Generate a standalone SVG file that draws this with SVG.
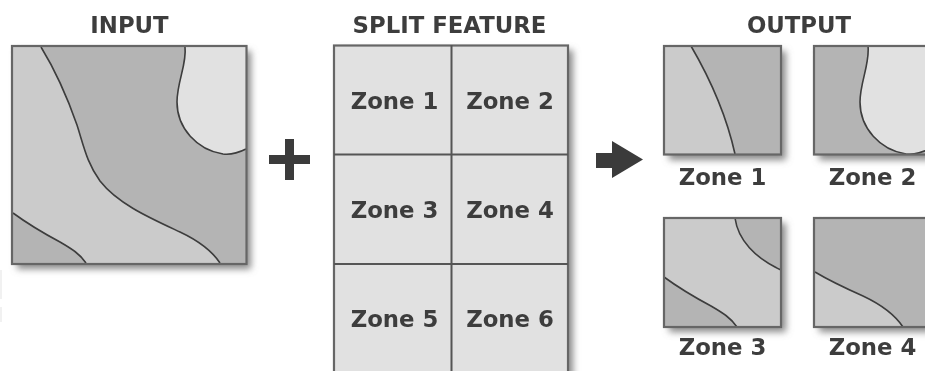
<svg xmlns="http://www.w3.org/2000/svg" width="925" height="371" viewBox="0 0 925 371">
<style>
text{font-family:"DejaVu Sans","Open Sans",sans-serif;font-weight:700;fill:#3e3e3e;text-anchor:middle;font-size:22.800px}
.box{fill:#b4b4b4}
.mid{fill:#cbcbcb}
.lite{fill:#e1e1e1}
.ln{fill:none;stroke:#3c3c3c;stroke-width:1.6}
.edge{fill:none;stroke:#666;stroke-width:2.200}
.sh{fill:#8a8a8a;filter:url(#sh)}
</style>
<defs>
<filter id="sh" x="-15%" y="-15%" width="130%" height="130%"><feGaussianBlur stdDeviation="3.500"/></filter>
<filter id="soft" filterUnits="userSpaceOnUse" x="0" y="0" width="925" height="371"><feGaussianBlur stdDeviation="0.450"/></filter>
<clipPath id="c2"><rect x="814" y="46" width="120" height="108.500"/></clipPath>
</defs>
<rect width="925" height="371" fill="#fff"/>
<g filter="url(#soft)">
<rect x="0" y="270" width="2" height="29" fill="#f1f1f1"/>
<rect x="0" y="307" width="2" height="15" fill="#f1f1f1"/>
<g id="input">
<rect class="sh" x="17" y="51" width="234" height="218"/>
<rect class="box" x="12" y="46" width="234.500" height="218"/>
<path class="mid" d="M13 47H41C60 78 70 105 77 125C84 147 87 163 100 181C118 204 150 218 180 232C197 240 212 251 220 263H86C80 254 72 249 60 242C45 234 28 224 13 213Z"/>
<path class="lite" d="M185 47H246V149C238 153 231 155 223 154C197 150 177 128 177 102C177 82 187 64 185 47Z"/>
<path class="ln" d="M41 47C60 78 70 105 77 125C84 147 87 163 100 181C118 204 150 218 180 232C197 240 212 251 220 263"/>
<path class="ln" d="M13 213C28 224 45 234 60 242C72 249 80 254 86 263"/>
<path class="ln" d="M185 47C187 64 177 82 177 102C177 128 197 150 223 154C231 155 238 153 246 149"/>
<rect class="edge" x="12" y="46" width="234.500" height="218"/>
<text x="129.500" y="33">INPUT</text>
</g>
<g id="plus"><path fill="#3a3a3a" d="M285 139H294V155H310V164H294V180H285V164H269V155H285Z"/></g>
<g id="split">
<rect class="sh" x="339" y="50" width="234" height="335"/>
<rect x="334" y="45.500" width="234" height="335" fill="#e1e1e1" stroke="#666" stroke-width="2.200"/>
<path d="M451.500 45V375M334 154.500H568M334 264H568" fill="none" stroke="#555" stroke-width="2"/>
<text x="449.500" y="33">SPLIT FEATURE</text>
<text x="394.500" y="109">Zone 1</text>
<text x="510" y="109">Zone 2</text>
<text x="394.500" y="218">Zone 3</text>
<text x="510" y="218">Zone 4</text>
<text x="394.500" y="327">Zone 5</text>
<text x="510" y="327">Zone 6</text>
</g>
<g id="arrow"><path fill="#3a3a3a" d="M596 153H612V141L643 159.500L612 178V168H596Z"/></g>
<g id="output">
<text x="799" y="33">OUTPUT</text>
<g id="out1">
<rect class="sh" x="669" y="51" width="117" height="109"/>
<rect class="box" x="664" y="46" width="117" height="108.500"/>
<path class="mid" d="M664 46H691C712 82 727 118 735 154H664Z"/>
<path class="ln" d="M691 46C712 82 727 118 735 154"/>
<rect class="edge" x="664" y="46" width="117" height="108.500"/>
<text x="722.500" y="185">Zone 1</text>
</g>
<g id="out2">
<rect class="sh" x="819" y="51" width="125" height="109"/>
<rect class="box" x="814" y="46" width="130" height="108.500"/>
<g clip-path="url(#c2)">
<path class="lite" d="M868 46H934V149C921 153 914 155 906 154C880 150 860 128 860 102C860 82 870 64 868 46Z"/>
<path class="ln" d="M868 46C870 64 860 82 860 102C860 128 880 150 906 154C914 155 921 153 929 149"/>
</g>
<rect class="edge" x="814" y="46" width="130" height="108.500"/>
<text x="872.500" y="185">Zone 2</text>
</g>
<g id="out3">
<rect class="sh" x="669" y="223" width="117" height="109"/>
<rect x="664" y="218" width="117" height="109" fill="#cbcbcb"/>
<path fill="#b4b4b4" d="M735 218H781V270C755 258 738 240 735 218Z"/>
<path fill="#b4b4b4" d="M664 277C679 288 696 298 711 306C723 313 731 318 737 327H664Z"/>
<path class="ln" d="M735 218C738 240 755 258 781 270"/>
<path class="ln" d="M664 277C679 288 696 298 711 306C723 313 731 318 737 327"/>
<rect class="edge" x="664" y="218" width="117" height="109"/>
<text x="722.500" y="355">Zone 3</text>
</g>
<g id="out4">
<rect class="sh" x="819" y="223" width="125" height="109"/>
<rect class="box" x="814" y="218" width="130" height="109"/>
<path class="mid" d="M815 272C830 281 845 288 863 296C880 304 895 315 903 327H815Z"/>
<path class="ln" d="M815 272C830 281 845 288 863 296C880 304 895 315 903 327"/>
<rect class="edge" x="814" y="218" width="130" height="109"/>
<text x="872.500" y="355">Zone 4</text>
</g>
</g>
</g>
</svg>
